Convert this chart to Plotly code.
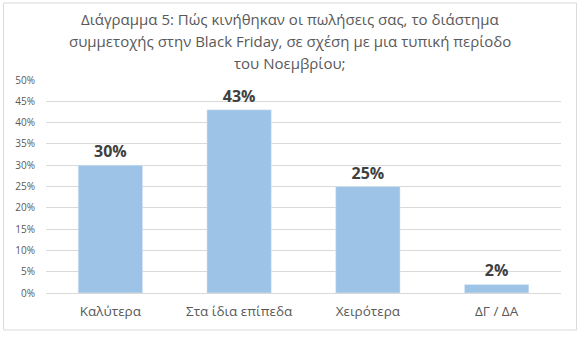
import plotly.graph_objects as go

categories = ["Καλύτερα", "Στα ίδια επίπεδα", "Χειρότερα", "ΔΓ / ΔΑ"]
values = [0.30, 0.43, 0.25, 0.02]
labels = ["30%", "43%", "25%", "2%"]
tick_vals = [0, 0.05, 0.10, 0.15, 0.20, 0.25, 0.30, 0.35, 0.40, 0.45, 0.50]
tick_text = ["0%", "5%", "10%", "15%", "20%", "25%", "30%", "35%", "40%", "45%", "50%"]
title_lines = ["Διάγραμμα 5: Πώς κινήθηκαν οι πωλήσεις σας, το διάστημα",
               "συμμετοχής στην Black Friday, σε σχέση με μια τυπική περίοδο",
               "του Νοεμβρίου;"]

FONT = "Open Sans"
W, H = 581, 339
L, R, T, B = 45.5, 19.5, 80, 46
pw, ph = W - L - R, H - T - B

fig = go.Figure(go.Bar(
    x=categories, y=values, marker_color="#9DC3E6", width=0.5,
    text=labels, textposition="outside",
    textfont=dict(family=FONT, size=16, color="#404040", weight="bold"),
    cliponaxis=False,
))

def px2x(p):
    return (p - L) / pw

def py2y(p):
    return (H - B - p) / ph

annotations = []
for i, line in enumerate(title_lines):
    annotations.append(dict(
        text=line, xref="paper", yref="paper", x=px2x(290), y=py2y(19 + 22 * i),
        xanchor="center", yanchor="middle", showarrow=False,
        font=dict(family=FONT, size=15, color="#595959")))

fig.update_layout(
    width=W, height=H,
    margin=dict(l=L, r=R, t=T, b=B),
    paper_bgcolor="white", plot_bgcolor="white",
    showlegend=False,
    font=dict(family=FONT, color="#595959"),
    annotations=annotations,
    xaxis=dict(showgrid=False, showline=True, linecolor="#D9D9D9", ticks="",
               tickfont=dict(size=13.5, color="#595959"), range=[-0.5, 3.5],
               ticklabelstandoff=6),
    yaxis=dict(range=[0, 0.5], tickvals=tick_vals, ticktext=tick_text,
               showgrid=True, gridcolor="#D9D9D9", zeroline=False,
               tickfont=dict(size=10, color="#595959"), ticks="", ticklabelstandoff=10),
    bargap=0.5,
    shapes=[dict(type="rect", xref="paper", yref="paper",
                 x0=px2x(3), x1=px2x(577), y0=py2y(330), y1=py2y(3),
                 line=dict(color="#D9D9D9", width=1), fillcolor="rgba(0,0,0,0)",
                 layer="below")],
)

fig.write_html("out.html")
